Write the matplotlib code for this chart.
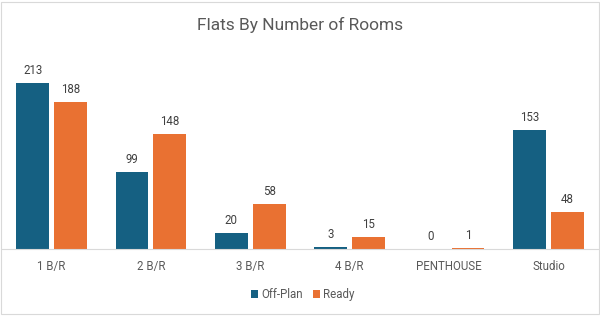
import matplotlib.pyplot as plt
import numpy as np

categories = ["1 B/R", "2 B/R", "3 B/R", "4 B/R", "PENTHOUSE", "Studio"]
off_plan = [213, 99, 20, 3, 0, 153]
ready = [188, 148, 58, 15, 1, 48]

BLUE = "#156082"
ORANGE = "#E97132"
GREY = "#595959"

plt.rcParams["font.family"] = ["Roboto", "DejaVu Sans"]

fig = plt.figure(figsize=(6.0, 3.16), dpi=100)
ax = fig.add_axes([0.003, 0.212, 0.994, 0.617])

x = np.arange(len(categories))
w = 0.33
off = 0.19

b1 = ax.bar(x - off, off_plan, w, color=BLUE, label="Off-Plan")
b2 = ax.bar(x + off, ready, w, color=ORANGE, label="Ready")

for bars, vals in ((b1, off_plan), (b2, ready)):
    for rect, v in zip(bars, vals):
        ax.annotate(str(v), (rect.get_x() + rect.get_width() / 2, v),
                    xytext=(0, 9), textcoords="offset points",
                    ha="center", va="center", fontsize=8.3, color="#404040")

ax.set_xlim(-0.5, len(categories) - 0.5)
ax.set_ylim(0, 250)
ax.set_xticks(x)
ax.set_xticklabels(categories, fontsize=8.3, color=GREY)
ax.set_yticks([])
ax.tick_params(axis="x", length=0, pad=8)

for s in ("top", "left", "right"):
    ax.spines[s].set_visible(False)
ax.spines["bottom"].set_color("#D9D9D9")

fig.text(0.5, 0.92, "Flats By Number of Rooms", ha="center", va="center",
         fontsize=12.5, color=GREY)

fig.legend(loc="center", bbox_to_anchor=(0.505, 0.068), ncol=2, frameon=False,
           fontsize=8.3, labelcolor=GREY, handlelength=0.6, handleheight=0.6,
           handletextpad=0.3, columnspacing=0.8)

# light chart border
fig.patches.append(plt.Rectangle((0.002, 0.005), 0.996, 0.99, transform=fig.transFigure,
                                 fill=False, edgecolor="#D9D9D9", linewidth=0.8))

fig.savefig("out.png", dpi=100)
